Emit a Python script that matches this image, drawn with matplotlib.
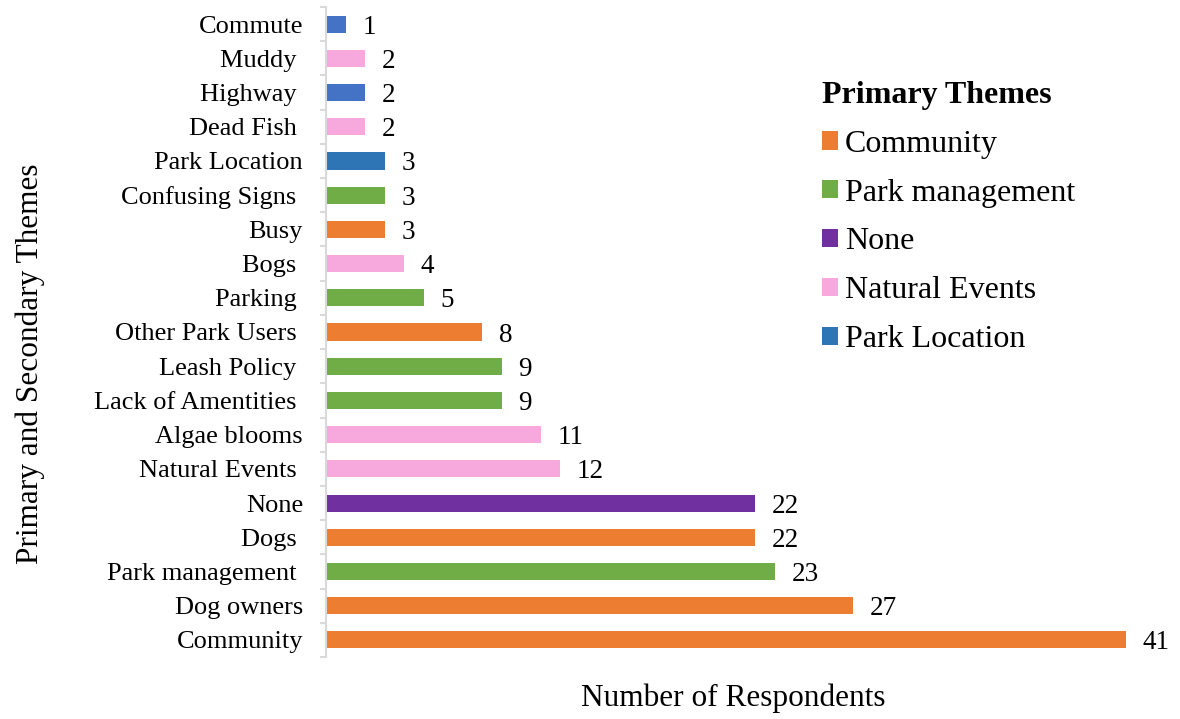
import matplotlib
matplotlib.use("Agg")
import matplotlib.pyplot as plt
from matplotlib.patches import Patch
import numpy as np

# Themes listed bottom-to-top
categories = ["Community", "Dog owners", "Park management ", "Dogs ", "None",
              "Natural Events ", "Algae blooms", "Lack of Amentities ", "Leash Policy ",
              "Other Park Users ", "Parking ", "Bogs ", "Busy", "Confusing Signs ",
              "Park Location", "Dead Fish ", "Highway ", "Muddy ", "Commute"]
respondents = [41, 27, 23, 22, 22, 12, 11, 9, 9, 8, 5, 4, 3, 3, 3, 2, 2, 2, 1]
primary_theme = ["Community", "Community", "Park management", "Community", "None",
                 "Natural Events", "Natural Events", "Park management", "Park management",
                 "Community", "Park management", "Natural Events", "Community",
                 "Park management", "Park Location", "Natural Events", "Access",
                 "Natural Events", "Access"]
legend_themes = ["Community", "Park management", "None", "Natural Events", "Park Location"]

theme_colors = {
    "Community": "#ED7D31",
    "Park management": "#70AD47",
    "None": "#7030A0",
    "Natural Events": "#F7A8DC",
    "Park Location": "#2E75B6",
    "Access": "#4472C4",
}

plt.rcParams["font.family"] = ["Liberation Serif", "DejaVu Serif"]

fig = plt.figure(figsize=(11.8, 7.19), dpi=100)
ax = fig.add_axes([326 / 1180, 1 - 657 / 719, (1170 - 326) / 1180, 650 / 719])

y = np.arange(len(categories))
colors = [theme_colors[t] for t in primary_theme]
ax.barh(y, respondents, height=0.5, color=colors, zorder=2)

for yi, v in zip(y, respondents):
    ax.text(v + 0.85, yi, str(v), va="center_baseline", ha="left", fontsize=19.5, color="black")

ax.set_xlim(0, (1170 - 326) / 19.52)
ax.set_ylim(-0.5, len(categories) - 0.5)

ax.set_yticks(y)
ax.set_yticklabels(categories, fontsize=19)
ax.tick_params(axis="y", which="major", length=0, pad=16.5)
ax.set_yticks(np.arange(-0.5, len(categories), 1.0), minor=True)
ax.tick_params(axis="y", which="minor", length=4.5, width=1.5, color="#D9D9D9")

ax.xaxis.set_visible(False)
for s in ["top", "right", "bottom"]:
    ax.spines[s].set_visible(False)
ax.spines["left"].set_color("#D9D9D9")
ax.spines["left"].set_linewidth(1.5)

fig.text(733 / 1180, 1 - 698 / 719, "Number of Respondents", ha="center", va="center", fontsize=22.5)
fig.text(30 / 1180, 1 - 364 / 719, "Primary and Secondary Themes", ha="center", va="center",
         rotation=90, fontsize=22.5)

handles = [Patch(facecolor=theme_colors[t], edgecolor="none") for t in legend_themes]
leg = ax.legend(handles, legend_themes, loc="upper left",
                bbox_to_anchor=((822 - 326) / 844, (657 - 81) / 650),
                frameon=False, fontsize=23, title="Primary Themes",
                title_fontproperties={"weight": "bold", "size": 23},
                alignment="left", handlelength=0.5, handleheight=0.5,
                handletextpad=0.22, labelspacing=0.62, borderpad=0, borderaxespad=0)

fig.savefig("out.png", dpi=100)
